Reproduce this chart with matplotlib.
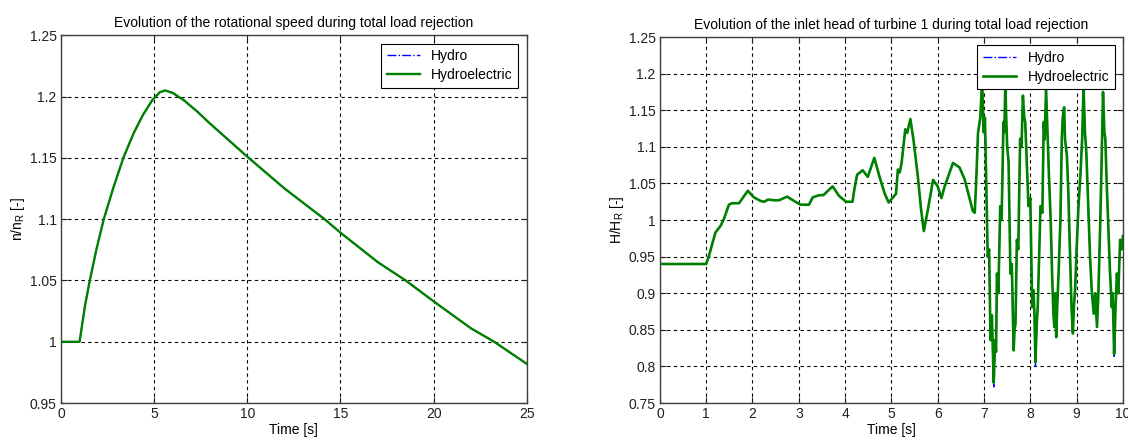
import matplotlib
matplotlib.use("Agg")
import matplotlib.pyplot as plt
import numpy as np

plt.rcParams['font.family'] = ['Liberation Sans', 'DejaVu Sans']
plt.rcParams['mathtext.fontset'] = 'custom'
plt.rcParams['mathtext.rm'] = 'Liberation Sans'
plt.rcParams['mathtext.it'] = 'Liberation Sans'

# rotational speed (left chart)
speed_time = [0, 1, 1.3, 1.55, 1.9, 2.3, 2.8, 3.35, 3.9, 4.4, 4.9, 5.3, 5.6, 6.0,
              6.6, 7.3, 8, 9, 10, 12, 14.15, 15, 17, 18.5, 20, 22, 23.25, 25]
speed_hydroelectric = [1.0, 1.0, 1.03, 1.05, 1.075, 1.1, 1.125, 1.15, 1.17, 1.185,
                       1.197, 1.2035, 1.205, 1.203, 1.197, 1.188, 1.178, 1.1645,
                       1.151, 1.125, 1.10, 1.089, 1.065, 1.05, 1.033, 1.011, 1.0, 0.982]
speed_hydro = list(speed_hydroelectric)

# inlet head of turbine 1 (right chart)
head_time = [0, 1.0, 1.06, 1.12, 1.2, 1.31, 1.38, 1.49, 1.56, 1.71, 1.82, 1.90,
             2.03, 2.18, 2.25, 2.34, 2.47, 2.57, 2.75, 2.90, 3.04, 3.22, 3.30,
             3.44, 3.53, 3.73, 3.87, 4.02, 4.16, 4.20, 4.26, 4.38, 4.49, 4.63,
             4.74, 4.85, 4.94, 5.06, 5.10, 5.14, 5.18, 5.22, 5.30, 5.34, 5.41,
             5.48, 5.57, 5.64, 5.70, 5.79, 5.90, 6.00, 6.08, 6.15, 6.33, 6.47,
             6.58, 6.76, 6.80, 6.83, 6.87, 6.92, 6.96, 6.99, 7.02, 7.05, 7.08,
             7.11, 7.14, 7.17, 7.21, 7.24, 7.26, 7.28, 7.31, 7.35, 7.38, 7.42,
             7.44, 7.46, 7.48, 7.50, 7.53, 7.57, 7.60, 7.64, 7.66, 7.68, 7.71,
             7.74, 7.78, 7.81, 7.84, 7.87, 7.89, 7.96, 8.00, 8.04, 8.07, 8.09,
             8.11, 8.14, 8.16, 8.22, 8.26, 8.29, 8.31, 8.34, 8.37, 8.40, 8.44,
             8.47, 8.50, 8.52, 8.54, 8.56, 8.58, 8.61, 8.65, 8.68, 8.70, 8.73,
             8.75, 8.79, 8.82, 8.86, 8.89, 8.92, 8.94, 8.97, 9.00, 9.04, 9.08,
             9.12, 9.15, 9.18, 9.21, 9.25, 9.29, 9.33, 9.37, 9.40, 9.44, 9.47,
             9.51, 9.54, 9.57, 9.60, 9.62, 9.65, 9.69, 9.72, 9.76, 9.78, 9.81,
             9.84, 9.87, 9.90, 9.94, 9.97, 10.0]
head_hydroelectric = [0.94, 0.94, 0.951, 0.965, 0.983, 0.992, 1.001, 1.021, 1.023,
                      1.023, 1.033, 1.040, 1.031, 1.026, 1.025, 1.028, 1.027, 1.027,
                      1.032, 1.026, 1.021, 1.021, 1.031, 1.034, 1.034, 1.046, 1.033,
                      1.025, 1.025, 1.042, 1.062, 1.068, 1.059, 1.085, 1.060, 1.037,
                      1.024, 1.033, 1.036, 1.069, 1.065, 1.078, 1.124, 1.119, 1.138,
                      1.108, 1.060, 1.015, 0.985, 1.015, 1.055, 1.046, 1.030, 1.046,
                      1.078, 1.072, 1.056, 1.012, 1.010, 1.051, 1.119, 1.140, 1.191,
                      1.120, 1.140, 1.042, 0.950, 0.960, 0.836, 0.870, 0.778, 0.836,
                      0.820, 0.927, 0.900, 1.019, 1.000, 1.134, 1.120, 1.186, 1.140,
                      1.101, 1.080, 0.927, 0.940, 0.822, 0.850, 0.859, 0.973, 0.960,
                      1.111, 1.100, 1.170, 1.140, 1.134, 1.019, 1.030, 0.881, 0.904,
                      0.870, 0.806, 0.860, 0.881, 1.019, 1.010, 1.134, 1.110, 1.179,
                      1.120, 1.065, 1.000, 0.927, 0.870, 0.854, 0.900, 0.840, 0.880,
                      0.927, 1.000, 1.111, 1.140, 1.154, 1.110, 1.088, 1.040, 0.950,
                      0.880, 0.845, 0.880, 0.909, 0.960, 1.019, 1.060, 1.111, 1.182,
                      1.120, 1.092, 1.020, 0.950, 0.900, 0.872, 0.900, 0.854, 0.900,
                      0.996, 1.080, 1.175, 1.120, 1.111, 1.050, 0.982, 0.930, 0.881,
                      0.900, 0.817, 0.880, 0.927, 0.900, 0.973, 0.960, 0.978]
# the Hydro run sits under the Hydroelectric one, peeking out at a few extremes
head_hydro = list(head_hydroelectric)
hydro_peaks = {7.21: 0.772, 7.46: 1.192, 8.11: 0.800, 9.15: 1.186, 9.81: 0.812}
for t, v in hydro_peaks.items():
    head_hydro[head_time.index(t)] = v

speed_ticks = [0.95, 1, 1.05, 1.1, 1.15, 1.2, 1.25]
speed_labels = ['0.95', '1', '1.05', '1.1', '1.15', '1.2', '1.25']
head_ticks = [0.75, 0.8, 0.85, 0.9, 0.95, 1, 1.05, 1.1, 1.15, 1.2, 1.25]
head_labels = ['0.75', '0.8', '0.85', '0.9', '0.95', '1', '1.05', '1.1', '1.15', '1.2', '1.25']

BLUE = '#0000ff'
GREEN = '#008000'
FS = 10

fig = plt.figure(figsize=(11.28, 4.41), dpi=100)
ax1 = fig.add_axes([0.054, 0.086, 0.413, 0.834])
ax2 = fig.add_axes([0.585, 0.086, 0.4105, 0.830])


def style_axes(ax):
    ax.grid(True, color='black', linestyle=(0, (3, 3)), linewidth=0.8)
    ax.set_axisbelow(True)
    for s in ax.spines.values():
        s.set_color('#404040')
        s.set_linewidth(1.0)
    ax.tick_params(direction='in', length=4, top=True, right=True,
                   labelsize=FS, pad=3, colors='#202020')
    ax.set_xlabel('Time [s]', fontsize=FS, labelpad=1)


ax1.plot(speed_time, speed_hydro, color=BLUE, linestyle='-.', linewidth=1.0, label='Hydro')
ax1.plot(speed_time, speed_hydroelectric, color=GREEN, linewidth=1.7, label='Hydroelectric')
ax1.set_xlim(0, 25)
ax1.set_ylim(0.95, 1.25)
ax1.set_xticks([0, 5, 10, 15, 20, 25])
ax1.set_yticks(speed_ticks)
ax1.set_yticklabels(speed_labels)
ax1.set_ylabel(r'n/n$_\mathrm{R}$ [-]', fontsize=FS, labelpad=2)
ax1.set_title('Evolution of the rotational speed during total load rejection', fontsize=FS, pad=6)
style_axes(ax1)

ax2.plot(head_time, head_hydro, color=BLUE, linestyle='-.', linewidth=1.0, label='Hydro')
ax2.plot(head_time, head_hydroelectric, color=GREEN, linewidth=1.9, label='Hydroelectric')
ax2.set_xlim(0, 10)
ax2.set_ylim(0.75, 1.25)
ax2.set_xticks(range(0, 11))
ax2.set_yticks(head_ticks)
ax2.set_yticklabels(head_labels)
ax2.set_ylabel(r'H/H$_\mathrm{R}$ [-]', fontsize=FS, labelpad=2)
ax2.set_title('Evolution of the inlet head of turbine 1 during total load rejection', fontsize=FS, pad=6)
style_axes(ax2)

for ax in (ax1, ax2):
    leg = ax.legend(loc='upper right', fontsize=FS, fancybox=False, framealpha=1,
                    edgecolor='black', borderaxespad=0.6, handlelength=2.4,
                    borderpad=0.4, labelspacing=0.35)
    leg.get_frame().set_linewidth(0.8)

fig.savefig('out.png', dpi=100)
